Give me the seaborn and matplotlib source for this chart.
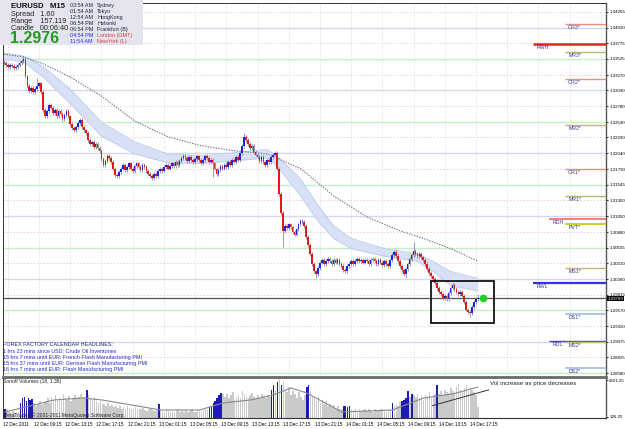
import numpy as np
import pandas as pd
import matplotlib
matplotlib.use("Agg")
import matplotlib.pyplot as plt
import seaborn as sns
from matplotlib.patches import Rectangle

W, H = 625, 429

# ---------------- data ----------------
closes = [
    1.3346, 1.3343, 1.3340, 1.3343, 1.3341, 1.3338, 1.3340, 1.3343, 1.3346, 1.3349,
    1.3352,
    1.3325, 1.3310, 1.3302, 1.3307, 1.3300, 1.3305, 1.3310, 1.3314, 1.3300,
    1.3272, 1.3262, 1.3270, 1.3280, 1.3276, 1.3268, 1.3272, 1.3262, 1.3270, 1.3266, 1.3258, 1.3264, 1.3270, 1.3262,
    1.3250, 1.3244, 1.3240, 1.3245,
    1.3252, 1.3256, 1.3246, 1.3240, 1.3236,
    1.3225, 1.3218, 1.3222, 1.3214, 1.3218, 1.3212, 1.3208,
    1.3195, 1.3186,
    1.3192, 1.3200, 1.3196, 1.3190,
    1.3180, 1.3170, 1.3168, 1.3175, 1.3180,
    1.3185, 1.3178, 1.3182, 1.3188, 1.3180, 1.3176, 1.3184, 1.3188, 1.3182, 1.3178, 1.3186, 1.3182, 1.3176, 1.3172,
    1.3168, 1.3165, 1.3172, 1.3168, 1.3176,
    1.3180, 1.3176, 1.3182, 1.3186, 1.3180, 1.3184, 1.3188, 1.3184, 1.3190, 1.3186, 1.3192, 1.3196, 1.3200,
    1.3196, 1.3192, 1.3198, 1.3194, 1.3190, 1.3195, 1.3199, 1.3193, 1.3188, 1.3194, 1.3200, 1.3196, 1.3190, 1.3194, 1.3188,
    1.3180, 1.3172, 1.3178, 1.3184,
    1.3180, 1.3186, 1.3182, 1.3190, 1.3186, 1.3194, 1.3190, 1.3198, 1.3194, 1.3204,
    1.3215, 1.3230,
    1.3225, 1.3218, 1.3212, 1.3215, 1.3206, 1.3202, 1.3198,
    1.3192, 1.3198, 1.3190, 1.3186, 1.3194, 1.3190, 1.3198, 1.3202, 1.3205,
    1.3180, 1.3140, 1.3110, 1.3082,
    1.3090, 1.3086, 1.3092, 1.3088, 1.3080, 1.3076, 1.3084, 1.3092, 1.3098, 1.3096, 1.3090,
    1.3072, 1.3060, 1.3045, 1.3030, 1.3018, 1.3014,
    1.3024, 1.3032, 1.3036, 1.3030, 1.3034, 1.3038, 1.3034, 1.3030, 1.3036, 1.3032, 1.3036, 1.3030, 1.3026, 1.3020,
    1.3018, 1.3026, 1.3030, 1.3034, 1.3030, 1.3034, 1.3038, 1.3034, 1.3036,
    1.3032, 1.3036, 1.3034, 1.3030, 1.3036, 1.3038, 1.3034, 1.3030, 1.3036, 1.3032, 1.3028, 1.3034, 1.3030, 1.3026,
    1.3036, 1.3044, 1.3048, 1.3042,
    1.3034, 1.3026, 1.3020, 1.3014, 1.3022,
    1.3030, 1.3038, 1.3044, 1.3050, 1.3046,
    1.3042, 1.3046, 1.3040, 1.3036, 1.3030,
    1.3022, 1.3016, 1.3010, 1.3006, 1.3000,
    1.2992, 1.2986, 1.2982, 1.2976, 1.2980, 1.2975,
    1.2984, 1.2992, 1.2996,
    1.2990, 1.2986, 1.2982, 1.2986, 1.2980,
    1.2970, 1.2958, 1.2954, 1.2952,
    1.2962, 1.2970, 1.2974, 1.2976,
]
first_open = 1.3348
high_spikes = {10: 1.3357, 17: 1.3322, 123: 1.3236, 201: 1.3054, 210: 1.3064, 243: 1.2983}
low_spikes = {107: 1.3166, 143: 1.3057, 160: 1.3008, 206: 1.3007, 239: 1.2946}

band_x = [0, 10, 20, 34, 50, 67, 84, 101, 118, 135, 140, 152, 161, 169, 178, 195, 212, 220, 229, 243]
band_hi = [1.3362, 1.3357, 1.3341, 1.3305, 1.3253, 1.3222, 1.3203, 1.3200, 1.3205, 1.3210,
           1.3200, 1.3164, 1.3122, 1.3090, 1.3070, 1.3054, 1.3046, 1.3034, 1.3018, 1.3007]
band_lo = [1.3352, 1.3348, 1.3324, 1.3282, 1.3231, 1.3203, 1.3189, 1.3188, 1.3192, 1.3197,
           1.3184, 1.3137, 1.3097, 1.3070, 1.3054, 1.3042, 1.3034, 1.3018, 1.2996, 1.2987]

ma_x = [0, 10, 20, 34, 50, 67, 84, 101, 118, 135, 152, 169, 186, 203, 215, 229, 243]
ma_y = [1.3360, 1.3356, 1.3345, 1.3324, 1.3294, 1.3255, 1.3230, 1.3216, 1.3208, 1.3203,
        1.3180, 1.3137, 1.3104, 1.3082, 1.3070, 1.3054, 1.3034]

volumes = (
    [650, 700, 450, 400, 550, 480, 420, 500]
    + [1100, 1400, 1500, 1200, 1450, 1300, 1350]
    + [1100, 900, 1000, 1200, 950, 1100]
    + [1200, 1400, 1100, 1500, 1300, 1600, 1250, 1450, 1350, 1700, 1400, 1300, 1550, 1250, 1400, 1600, 1350, 1500, 1700, 1450]
    + [1500, 2000, 1600, 1400]
    + [1300, 1500, 1200, 1100, 1250, 1000]
    + [1000, 900, 1100, 850, 950, 800, 900, 750, 850, 700, 800, 650, 900, 750, 700, 650, 800, 600, 700, 650, 750, 600, 550, 700, 650, 600, 550, 650]
    + [1000]
    + [600, 550, 500, 650, 600, 450, 550, 500, 600, 650, 500, 550, 450, 600, 500, 550, 650, 500, 450, 600, 550, 500, 600, 650, 700]
    + [800, 900, 1050, 1200, 1400, 1600, 1750, 1700]
    + [1500, 1700, 1400, 1600, 1800, 1300, 1500, 1650, 1400, 1900, 1700, 1550, 1400, 1600, 1750, 1500, 1350, 1600, 1450, 1700, 1550, 1400, 1650, 1500]
    + [2000, 2300, 1900, 2500, 2750, 2300, 2600]
    + [2000, 1800, 2200, 1600, 1900, 1700, 1400, 1800, 1500, 1300, 1600]
    + [2200, 2300, 1900, 1500]
    + [1400, 1200, 1500, 1100, 1300, 1000, 1200, 900, 1000, 800, 950, 700, 850, 650]
    + [700, 850, 900, 800, 900, 650]
    + [600, 700, 550, 650, 500, 600, 700, 550, 650, 600, 500, 700, 600, 550, 650, 700, 600, 500, 650, 600]
    + [1100, 900, 1000, 900, 1150, 1200, 1300, 1450, 1900, 1500, 1700, 1600]
    + [1500, 1700, 1400, 1600, 1300, 1650, 1500, 1800, 1450, 1600, 1700]
    + [2300]
    + [1700, 1900, 1600, 2000, 1800, 1750, 2100, 1900, 1700, 2200, 2400, 2000, 1850, 2100, 2300, 1900, 2200, 2000, 1800, 1600, 800]
)
blue_volume_bars = [0, 8, 9, 10, 11, 12, 13, 14, 42, 79, 105, 106, 107, 108, 109, 110, 111,
                    137, 138, 140, 142, 155, 156, 174, 175, 176, 177, 199, 204, 205, 206, 207, 209, 222]
vma_x = [0, 15, 25, 40, 50, 65, 80, 100, 112, 126, 137, 147, 155, 173, 199, 215, 230, 243]
vma_y = [467, 945, 1286, 1423, 1286, 945, 604, 604, 1082, 1286, 1600, 2105, 1764, 467, 604, 1423, 1700, 2173]

price_ticks = [1.34265, 1.34020, 1.33775, 1.33525, 1.33270, 1.33030, 1.32780, 1.32530,
               1.32290, 1.32040, 1.31790, 1.31545, 1.31300, 1.31050, 1.30800, 1.30555,
               1.30310, 1.30060, 1.29815, 1.29570, 1.29320, 1.29075, 1.28825, 1.28580]
time_labels = ["12 Dec 2011", "12 Dec 09:15", "12 Dec 13:15", "12 Dec 17:15", "12 Dec 21:15",
               "13 Dec 01:15", "13 Dec 05:15", "13 Dec 09:15", "13 Dec 13:15", "13 Dec 17:15",
               "13 Dec 21:15", "14 Dec 01:15", "14 Dec 05:15", "14 Dec 09:15", "14 Dec 13:15",
               "14 Dec 17:15"]
vol_ticks = [126.25, 2651.25]

pivot_names = ["OR3*", "RWH", "MR3*", "OR2*", "MR2*", "OR1*", "MR1*", "RDH", "PVT*",
               "MS1*", "RWL", "DS1*", "RDL", "MS2*", "DS2*"]
pivot_values = [1.34076, 1.33761, 1.33635, 1.33210, 1.32485, 1.31792, 1.31367, 1.31005,
                1.30926, 1.30233, 1.29997, 1.29509, 1.29083, 1.29067, 1.28658]

current_price = 1.2976
box_x = [219, 251.3]
box_y = [1.29367, 1.30028]

sessions = ["Sydney", "Tokyo", "HongKong", "Helsinki", "Frankfurt (B)", "London (GMT)", "NewYork (L)"]
session_times = ["03:54 AM", "01:54 AM", "12:54 AM", "06:54 PM", "06:54 PM", "04:54 PM", "11:54 AM"]
headlines = ["FOREX FACTORY CALENDAR HEADLINES:",
             "1 hrs 23 mins since USD: Crude Oil Inventories",
             "15 hrs 7 mins until EUR: French Flash Manufacturing PMI",
             "15 hrs 37 mins until EUR: German Flash Manufacturing PMI",
             "16 hrs 7 mins until EUR: Flash Manufacturing PMI"]

# ---------------- style ----------------
sns.set_style("white")
plt.rcParams['font.family'] = ['Liberation Sans', 'DejaVu Sans']

fig = plt.figure(figsize=(W / 100, H / 100), dpi=100)
fig.patch.set_facecolor('white')


def fx(px):
    return px / W


def fy(py):
    return 1 - py / H


def ftext(px, py, s, **kw):
    kw.setdefault('va', 'center')
    kw.setdefault('ha', 'left')
    return fig.text(fx(px), fy(py), s, **kw)


ax = fig.add_axes([fx(3), fy(375), (606 - 3) / W, (375 - 3) / H])
axv = fig.add_axes([fx(3), fy(418), (606 - 3) / W, (418 - 377) / H])
XMAX = 308.7
for a in (ax, axv):
    a.set_xlim(-0.5, XMAX)
    a.set_facecolor('white')
ax.set_ylim(1.28549, 1.34406)

TICK_FS = 3.2

# grid
for k, v in enumerate(price_ticks):
    if k % 2 == 0:
        ax.axhline(v, color='#f1cdc6', lw=0.6, ls=(0, (2, 2)), zorder=0)
    elif k % 4 == 1:
        ax.axhline(v, color='#d3d7f1', lw=1.0, zorder=0)
    else:
        ax.axhline(v, color='#c2f0c2', lw=1.0, zorder=0)
for k in range(20):
    ax.axvline(2 + 16 * k, color='#cfcfcf', lw=0.6, ls=(0, (1, 2)), zorder=0)

# MA band + slow MA
ax.fill_between(band_x, band_lo, band_hi, color='#d8e0f6', lw=0, zorder=1)
sns.lineplot(x=band_x, y=band_hi, ax=ax, color='#bccaee', lw=0.6, zorder=1, estimator=None, sort=False)
sns.lineplot(x=band_x, y=band_lo, ax=ax, color='#bccaee', lw=0.6, zorder=1, estimator=None, sort=False)
sns.lineplot(x=ma_x, y=ma_y, ax=ax, color='#6c6c8c', lw=0.8, ls=(0, (1.2, 1.2)), zorder=2,
             estimator=None, sort=False)

# candles
c = np.array(closes)
o = np.array([first_open] + closes[:-1])
xi = np.arange(len(c))
hi = np.maximum(o, c) + 0.0003
lo = np.minimum(o, c) - 0.0003
for i, v in high_spikes.items():
    hi[i] = v
for i, v in low_spikes.items():
    lo[i] = v
up = c >= o
ax.vlines(xi, lo, hi, color='#8c8c9c', lw=0.6, zorder=3)
body = np.where(np.abs(c - o) < 0.00008, 0.00008, np.abs(c - o))
bot = np.minimum(o, c)
ax.bar(xi[up], body[up], bottom=bot[up], width=0.85, color='#2222e6', lw=0, zorder=4)
ax.bar(xi[~up], body[~up], bottom=bot[~up], width=0.85, color='#e01a1a', lw=0, zorder=4)

# current price line, box, dot
ax.axhline(current_price, color='#555555', lw=0.9, zorder=2)
ax.add_patch(Rectangle((box_x[0], box_y[0]), box_x[1] - box_x[0], box_y[1] - box_y[0],
                       fill=False, edgecolor='black', lw=1.2, zorder=6))
ax.plot([245.6], [current_price], 'o', color='#22cc22', ms=4.5, mec='#22cc22', zorder=7)

# pivot lines
pstyle = {
    'OR': ('#f28a7a', 1.0, 287.7), 'MR': ('#b8b86a', 1.0, 287.7), 'MS': ('#c8b878', 1.0, 287.7),
    'DS': ('#a9c0ea', 1.3, 287.7), 'PV': ('#c8c400', 1.2, 287.7),
    'RWH': ('#e82222', 1.8, 271.3), 'RWL': ('#3333e0', 1.6, 271.3),
    'RDH': ('#f07474', 1.3, 279.5), 'RDL': ('#4444c8', 1.0, 279.5),
}
for name, v in zip(pivot_names, pivot_values):
    key = name if name in pstyle else name[:2]
    col, lw, x0 = pstyle[key]
    ax.hlines(v, x0, XMAX, color=col, lw=lw, zorder=5)
    ax.text(x0 + 1.6, v - 0.0001, name, color='#3a3a8a', fontsize=3.8, va='top', ha='left', zorder=6)

# axes styling main
ax.yaxis.tick_right()
ax.set_yticks(price_ticks)
ax.set_yticklabels([f"{v:.5f}" for v in price_ticks])
ax.tick_params(axis='y', length=1.5, width=0.6, pad=0.8, labelsize=TICK_FS, colors='black')
ax.set_xticks([])
ax.set_ylabel('')
ax.set_xlabel('')
for s in ('left', 'top'):
    ax.spines[s].set_color('#333333')
    ax.spines[s].set_linewidth(0.7)
ax.spines['right'].set_color('#555555')
ax.spines['right'].set_linewidth(1.0)
ax.spines['bottom'].set_visible(False)

# volume panel
vx = np.arange(len(volumes))
vcols = ['#1c1cb4' if i in blue_volume_bars else '#cacaca' for i in vx]
axv.bar(vx, volumes, width=0.8, color=vcols, lw=0, zorder=2)
sns.lineplot(x=vma_x, y=vma_y, ax=axv, color='#8a8a8a', lw=0.8, zorder=3, estimator=None, sort=False)
axv.set_ylim(58, 2856)
axv.yaxis.tick_right()
axv.set_yticks(vol_ticks)
axv.set_yticklabels([f"{v:.2f}" for v in vol_ticks])
axv.tick_params(axis='y', length=1.5, width=0.6, pad=0.8, labelsize=TICK_FS, colors='black')
axv.set_xticks([16 * k - 1 for k in range(len(time_labels))])
axv.set_xticklabels(time_labels, ha='left')
axv.tick_params(axis='x', length=2, width=0.6, pad=1.0, labelsize=3.3, colors='black')
axv.set_ylabel('')
axv.set_xlabel('')
axv.spines['top'].set_color('#6a6a6a')
axv.spines['top'].set_linewidth(2.0)
axv.spines['bottom'].set_color('#333333')
axv.spines['bottom'].set_linewidth(0.8)
axv.spines['left'].set_color('#333333')
axv.spines['left'].set_linewidth(0.7)
axv.spines['right'].set_color('#555555')
axv.spines['right'].set_linewidth(1.0)

axv.plot([219.5, 248.5], [900, 1980], color='#333333', lw=0.7, zorder=4)
ftext(490, 384, "Vol increase as price decreases", fontsize=4.4, color='#222222')
ftext(3, 381, "Sonoff Volumes (18, 1.38)", fontsize=3.6, color='#222222')
ftext(3, 415, "MetaTrader, \u00a9 2001-2011 MetaQuotes Software Corp.", fontsize=3.6, color='#222222')

# headlines
for k, (s, yy) in enumerate(zip(headlines, [345, 351.5, 357.5, 364, 370])):
    ftext(3, yy, s, fontsize=3.9, color='#20206a' if k == 0 else '#2a2ad0')

# info box
fig.add_artist(Rectangle((0, fy(45)), fx(143), 45 / H, transform=fig.transFigure,
                         facecolor='#e4e4ee', edgecolor='none', zorder=10))
ftext(11, 6, "EURUSD   M15", fontsize=5.6, fontweight='bold', color='#111111', zorder=11)
ftext(11, 14.5, "Spread   1.60", fontsize=5.2, color='#222222', zorder=11)
ftext(11, 21.5, "Range    157.119", fontsize=5.2, color='#222222', zorder=11)
ftext(11, 28.5, "Candle   00:06:40", fontsize=5.2, color='#222222', zorder=11)
ftext(10, 38.5, "1.2976", fontsize=11.5, fontweight='bold', color='#229922', zorder=11)
for k, (nm, tm) in enumerate(zip(sessions, session_times)):
    yy = 5.7 + 5.95 * k
    hot = nm.startswith(("London", "NewYork"))
    ftext(70, yy, tm, fontsize=3.9, color='#2a2af0' if hot else '#222244', zorder=11)
    ftext(97, yy, nm, fontsize=3.9, color='#e03838' if hot else '#222244', zorder=11)

# current price tag on the axis
ftext(607.5, 298.5, "1.29760", fontsize=TICK_FS, color='white', zorder=12,
      bbox=dict(facecolor='black', edgecolor='none', pad=0.5))

fig.savefig("out.png", dpi=100, facecolor='white')
